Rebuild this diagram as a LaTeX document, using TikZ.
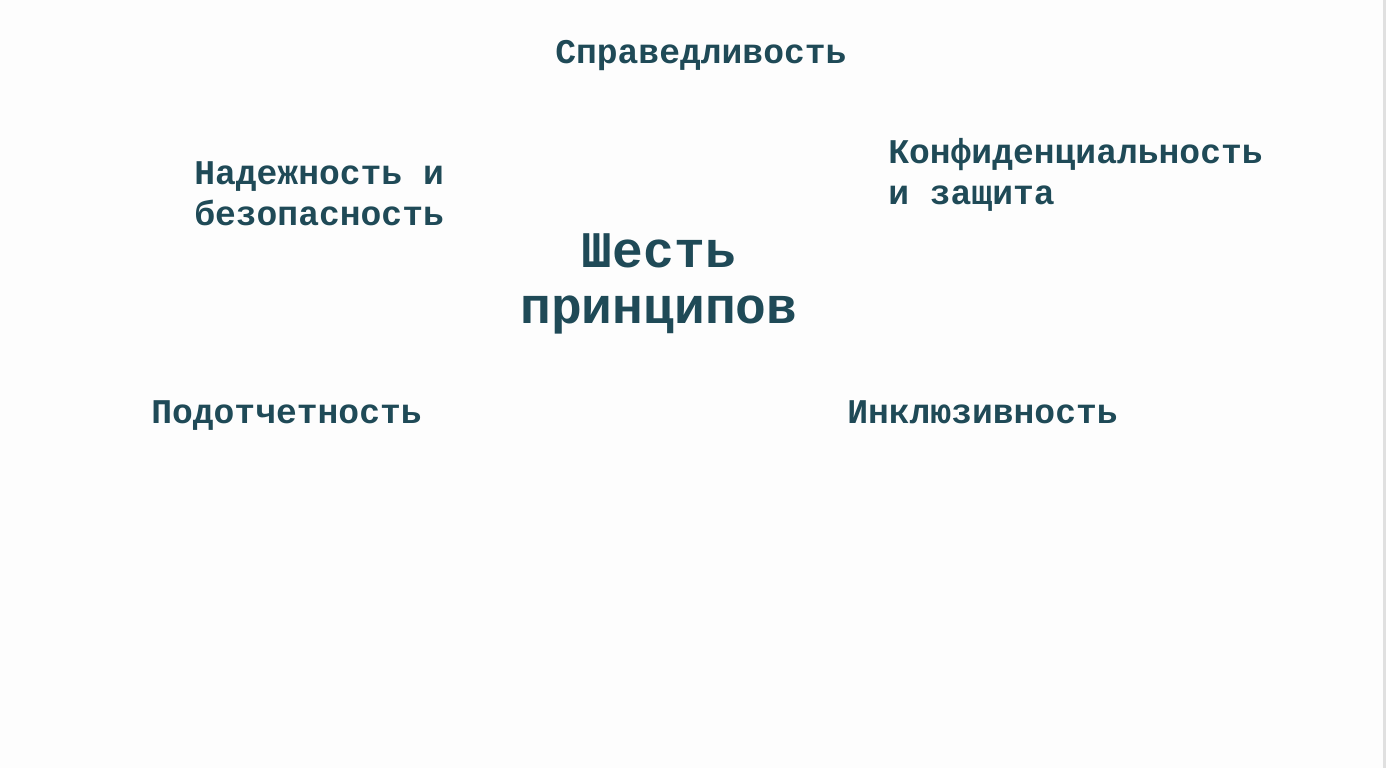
\documentclass[tikz,border=0pt]{standalone}
\usepackage{fontspec}
\setmonofont{Liberation Mono}
\definecolor{principle}{HTML}{1F4A57}
\definecolor{paper}{HTML}{FDFDFD}
\begin{document}
\begin{tikzpicture}[
        x=0.75pt, y=-0.75pt,
        item/.style={anchor=base west, inner sep=0, text=principle, align=left,
            font=\ttfamily\bfseries\fontsize{26}{30.75}\selectfont},
        title/.style={anchor=base, inner sep=0, text=principle, align=center,
            font=\ttfamily\bfseries\fontsize{38.5}{41.5}\selectfont},
    ]
    \fill[paper] (0, 0) rectangle (1386, 768);
    \fill[black!12] (1383, 0) rectangle (1386, 768);
    \useasboundingbox (0, 0) rectangle (1386, 768);

    % multi-line nodes sit on the baseline of their last line
    \node[title] (six) at (659, 323) {Шесть\\принципов};

    \node[item] (fair) at (555, 63) {Справедливость};
    \node[item] (safe) at (194, 225) {Надежность и\\безопасность};
    \node[item] (priv) at (888, 204) {Конфиденциальность\\и защита};
    \node[item] (acct) at (151, 423) {Подотчетность};
    \node[item] (incl) at (847, 423) {Инклюзивность};

\end{tikzpicture}
\end{document}
